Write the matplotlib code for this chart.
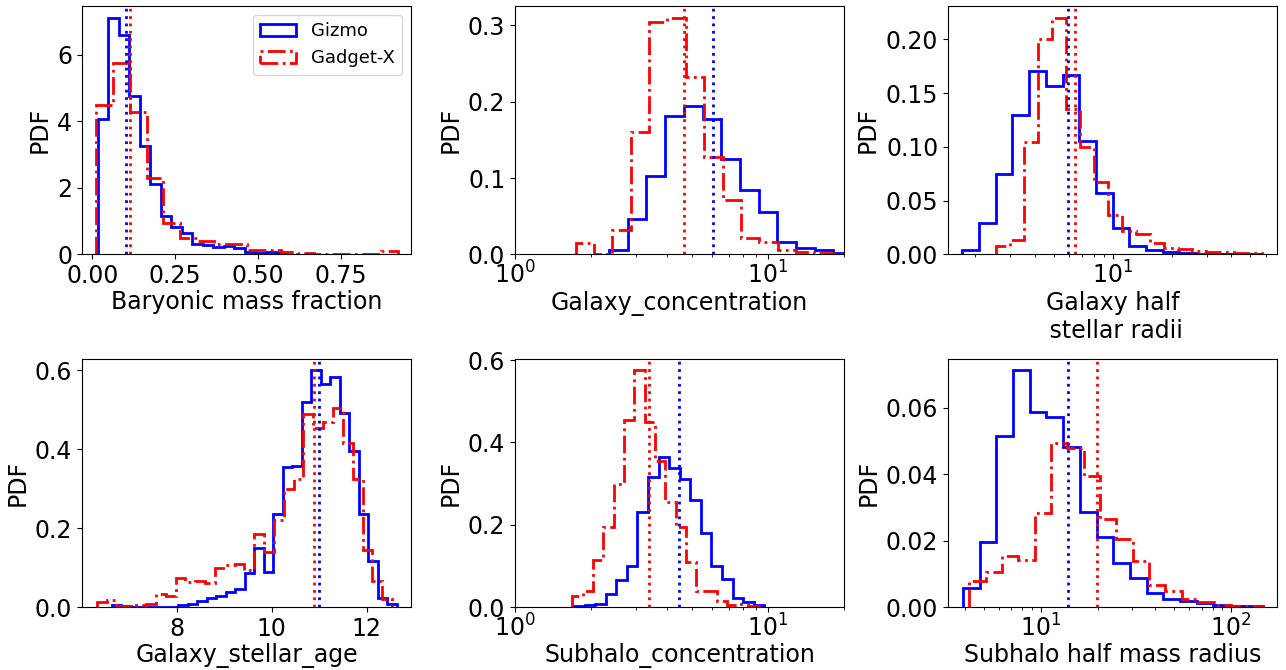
import numpy as np
import matplotlib
matplotlib.use('Agg')
import matplotlib.pyplot as plt

# Baryonic mass fraction
bmf_gizmo = [4.07, 7.1, 6.6, 4.75, 3.26, 2.1, 1.15, 0.82, 0.65, 0.32, 0.28, 0.22,
             0.25, 0.2, 0.08, 0.05, 0.08, 0.05]
bmf_gadget = [4.5, 5.75, 4.27, 2.3, 0.95, 0.5, 0.4, 0.3, 0.3, 0.12, 0.12, 0.08,
              0.03, 0.02, 0.02, 0.02, 0.02, 0.1]
bmf_range_gizmo = (0.017, 0.586)
bmf_range_gadget = (0.012, 0.921)
bmf_median = (0.1026, 0.1126)

# Galaxy concentration
gc_gizmo = [0.006, 0.047, 0.103, 0.181, 0.194, 0.177, 0.125, 0.085, 0.055, 0.016,
            0.008, 0.006, 0.002]
gc_gadget = [0.015, 0.0, 0.032, 0.16, 0.305, 0.31, 0.232, 0.128, 0.071, 0.022,
             0.016, 0.006, 0.003, 0.002, 0.001]
gc_range_gizmo = (2.355, 21.5)
gc_range_gadget = (1.738, 21.3)
gc_median = (6.09, 4.67)

# Galaxy half stellar radii
ghr_gizmo = [0.0046, 0.029, 0.075, 0.130, 0.171, 0.157, 0.167, 0.1055, 0.0574,
             0.0247, 0.0077, 0.0043, 0.002, 0.001, 0.0006, 0.0004, 0.0003, 0.0002]
ghr_gadget = [0.008, 0.013, 0.105, 0.20, 0.22, 0.135, 0.10, 0.067, 0.037, 0.022,
              0.019, 0.011, 0.006, 0.005, 0.003, 0.002, 0.002, 0.001, 0.001]
ghr_range_gizmo = (1.714, 58.1)
ghr_range_gadget = (2.55, 57.4)
ghr_median = (5.9, 6.41)

# Galaxy stellar age
age_gizmo = [0.005, 0.002, 0.001, 0.001, 0.0, 0.0, 0.001, 0.004, 0.008, 0.016,
             0.024, 0.029, 0.037, 0.045, 0.087, 0.15, 0.09, 0.237, 0.355, 0.358,
             0.52, 0.60, 0.566, 0.583, 0.493, 0.395, 0.236, 0.117, 0.024, 0.008]
age_gadget = [0.013, 0.018, 0.003, 0.002, 0.005, 0.008, 0.032, 0.027, 0.073, 0.063,
              0.067, 0.06, 0.1, 0.107, 0.108, 0.095, 0.185, 0.14, 0.22, 0.30,
              0.325, 0.49, 0.455, 0.47, 0.505, 0.415, 0.325, 0.145, 0.065, 0.02]
age_range_gizmo = (6.63, 12.63)
age_range_gadget = (6.32, 12.53)
age_median = (11.0, 10.88)

# Subhalo concentration
sc_gizmo = [0.003, 0.004, 0.008, 0.032, 0.065, 0.10, 0.23, 0.315, 0.365, 0.337,
            0.31, 0.26, 0.18, 0.10, 0.067, 0.023, 0.012, 0.004]
sc_gadget = [0.027, 0.04, 0.115, 0.195, 0.30, 0.455, 0.575, 0.45, 0.355, 0.255,
             0.195, 0.11, 0.04, 0.038, 0.015, 0.005, 0.007, 0.002]
sc_range_gizmo = (1.712, 9.67)
sc_range_gadget = (1.686, 9.18)
sc_median = (4.46, 3.40)

# Subhalo half mass radius
shr_gizmo = [0.0057, 0.0195, 0.0516, 0.0712, 0.0588, 0.0573, 0.0483, 0.0286, 0.0211,
             0.0133, 0.0088, 0.0043, 0.0025, 0.0018, 0.0012, 0.0005, 0.0003, 0.0002]
shr_gadget = [0.0077, 0.0105, 0.0153, 0.014, 0.0283, 0.0495, 0.0478, 0.0393, 0.0264,
              0.0205, 0.0139, 0.0066, 0.0048, 0.0023, 0.0014, 0.0005, 0.0003, 0.0002]
shr_range_gizmo = (3.90, 148.0)
shr_range_gadget = (4.20, 148.0)
shr_median = (13.9, 19.7)

panels = [
    ('Baryonic mass fraction', False, bmf_gizmo, bmf_range_gizmo, bmf_gadget, bmf_range_gadget, bmf_median, (-0.031, 0.961)),
    ('Galaxy_concentration', True, gc_gizmo, gc_range_gizmo, gc_gadget, gc_range_gadget, gc_median, (1, 20)),
    ('Galaxy half\n stellar radii', True, ghr_gizmo, ghr_range_gizmo, ghr_gadget, ghr_range_gadget, ghr_median, (1.449, 68.5)),
    ('Galaxy_stellar_age', False, age_gizmo, age_range_gizmo, age_gadget, age_range_gadget, age_median, (6.01, 12.93)),
    ('Subhalo_concentration', True, sc_gizmo, sc_range_gizmo, sc_gadget, sc_range_gadget, sc_median, (1, 20)),
    ('Subhalo half mass radius', True, shr_gizmo, shr_range_gizmo, shr_gadget, shr_range_gadget, shr_median, (3.25, 174.6)),
]


def make_edges(rng, n, log):
    if log:
        return np.geomspace(rng[0], rng[1], n + 1)
    return np.linspace(rng[0], rng[1], n + 1)


fig, axes = plt.subplots(2, 3, figsize=(12.86, 6.70), dpi=100)
plt.subplots_adjust(left=0.0638, right=0.993, top=0.991, bottom=0.094,
                    wspace=0.316, hspace=0.419)

for ax, (label, log, giz, giz_rng, gad, gad_rng, med, xlim) in zip(axes.flat, panels):
    e1 = make_edges(giz_rng, len(giz), log)
    e2 = make_edges(gad_rng, len(gad), log)
    ax.hist(e1[:-1], bins=e1, weights=giz, histtype='step', color='blue',
            lw=2, label='Gizmo')
    ax.hist(e2[:-1], bins=e2, weights=gad, histtype='step', color='red',
            lw=2, ls='-.', label='Gadget-X')
    ax.axvline(med[0], color='blue', ls=':', lw=2)
    ax.axvline(med[1], color='red', ls=':', lw=2)
    if log:
        ax.set_xscale('log')
        ax.tick_params(axis='x', pad=1.5)
    ax.set_xlim(*xlim)
    ax.set_xlabel(label, fontsize=17, labelpad=1.5)
    ax.set_ylabel('PDF', fontsize=17)
    ax.tick_params(labelsize=17)

axes[0, 0].legend(loc='upper right', fontsize=13)

plt.savefig('out.png', dpi=100)
